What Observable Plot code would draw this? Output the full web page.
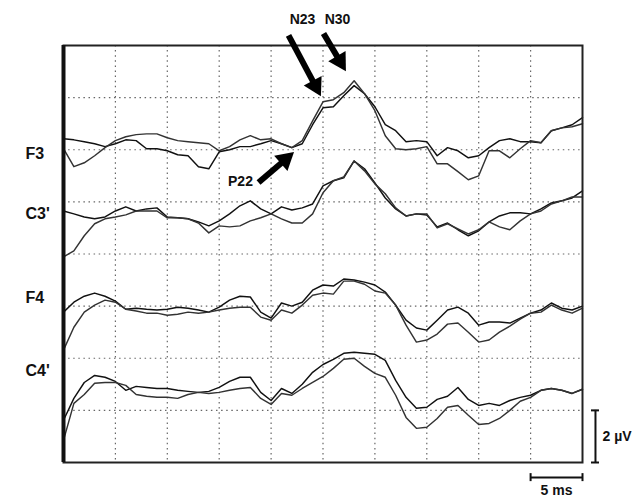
<!DOCTYPE html>
<html><head><meta charset="utf-8">
<script src="https://cdn.jsdelivr.net/npm/d3@7"></script>
<script src="https://cdn.jsdelivr.net/npm/@observablehq/plot@0.6"></script>
<style>body{margin:0;background:#fff;font-family:"Liberation Sans",Arial,sans-serif}</style>
</head><body><div id="chart"></div>
<script>
// time samples (ms after stimulus)
const timeMs = [0,1,2,3,4,5,6,7,8,9,10,11,12,13,14,15,16,17,18,19,20,21,22,23,24,25,26,27,28,29,30,31,32,33,34,35,36,37,38,39,40,41,42,43,44,45,46,47,48,49,50];
// channels and their display offsets (µV)
const channels = ["F3", "C3'", "F4", "C4'"];
const channelOffset = [12, 10, 6, 2];
const labelLevel = [11.86, 9.55, 6.33, 3.53];

// traces, µV relative to channel offset
const f3A = [0.42,0.38,0.31,0.23,0.12,0.23,0.38,0.35,0.04,0.04,-0.04,-0.19,-0.23,-0.65,-0.73,-0.08,0,0.12,0.12,0.23,0.35,0.23,0.08,0.23,0.96,1.61,1.65,2.07,2.46,2.15,1.65,0.96,0.73,0.31,0.35,0.31,-0.23,0.08,-0.04,-0.31,-0.23,0.08,0.35,0.42,0.31,0.31,0.27,0.73,0.84,0.96,1.23];
const f3B = [0.04,-0.65,-0.50,-0.23,0.08,0.35,0.50,0.58,0.61,0.61,0.46,0.35,0.31,0.27,0.23,-0.04,0.12,0.38,0.54,0.38,0.42,0.23,0.08,0.35,1.11,1.84,1.92,2.19,2.65,2.15,1.50,0.54,0.04,0,0.04,0.12,-0.54,-0.54,-0.84,-1.15,-1.00,-0.04,-0.04,-0.31,0.04,0.35,0.27,0.73,0.84,0.88,1.00];
const c3A = [-0.35,-0.46,-0.58,-0.65,-0.58,-0.35,-0.19,-0.35,-0.27,-0.23,-0.58,-0.61,-0.65,-0.77,-0.92,-0.73,-0.46,-0.15,0.04,-0.27,-0.46,-0.19,-0.31,-0.23,-0.08,0.61,0.81,0.92,1.57,1.27,0.73,0.15,-0.27,-0.54,-0.46,-0.50,-0.96,-0.81,-1.07,-1.30,-1.11,-0.77,-0.54,-0.42,-0.42,-0.46,-0.27,-0.04,0.04,0.15,0.42];
const c3B = [-2.11,-1.88,-1.30,-0.84,-0.65,-0.58,-0.50,-0.35,-0.35,-0.35,-0.61,-0.61,-0.65,-0.81,-1.19,-0.92,-0.96,-0.92,-0.73,-0.61,-0.46,-0.65,-0.81,-0.81,-0.46,0.35,0.81,0.96,1.57,1.19,0.69,0.31,-0.23,-0.54,-0.46,-0.46,-1.00,-0.84,-1.04,-1.23,-1.07,-0.77,-0.96,-1.07,-0.73,-0.46,-0.35,-0.08,0.04,0.19,0.19];
const f4A = [-0.23,0.15,0.38,0.50,0.38,0.19,-0.12,-0.08,-0.12,-0.15,-0.12,-0.04,-0.08,-0.15,-0.23,-0.04,0.23,0.38,0.35,-0.23,-0.46,0.12,0,0.15,0.61,0.81,0.77,1.04,1.00,0.92,0.81,0.54,0.04,-0.54,-0.84,-0.92,-0.54,-0.15,-0.04,-0.27,-0.73,-0.61,-0.61,-0.65,-0.46,-0.27,-0.15,0.12,-0.08,-0.15,0];
const f4B = [-1.69,-0.81,-0.23,0.04,0.23,0.15,-0.12,-0.19,-0.27,-0.27,-0.35,-0.31,-0.23,-0.27,-0.23,-0.15,-0.08,-0.04,-0.04,-0.42,-0.54,-0.15,-0.27,0.04,0.42,0.50,0.46,0.96,0.96,0.84,0.58,0.50,0.04,-0.73,-1.38,-1.30,-1.07,-0.69,-0.65,-1.00,-1.38,-1.30,-1.00,-0.77,-0.50,-0.27,-0.23,0.04,-0.15,-0.27,-0.08];
const c4A = [-0.38,0.46,1.07,1.34,1.27,1.11,0.77,0.92,0.88,0.84,0.84,0.77,0.73,0.69,0.73,0.88,1.11,1.27,1.27,0.69,0.38,0.84,0.65,1.00,1.46,1.76,1.96,2.19,2.23,2.19,2.15,1.92,1.15,0.50,0.08,0.12,0.42,0.54,0.88,0.42,0.19,0.27,0.19,0.38,0.50,0.58,0.77,0.84,0.77,0.65,0.81];
const c4B = [-1.15,0.27,0.61,1.04,1.07,1.07,0.96,0.61,0.54,0.50,0.50,0.46,0.61,0.69,0.65,0.69,0.77,0.84,0.88,0.46,0.23,0.65,0.58,0.84,1.07,1.30,1.61,1.96,2.00,1.69,1.42,1.27,0.58,-0.27,-0.69,-0.65,-0.31,0.12,0.19,-0.19,-0.54,-0.50,-0.31,0,0.35,0.50,0.77,0.84,0.77,0.65,0.81];

// grid
const gridTimes = [5,10,15,20,25,30,35,40,45];
const gridVolts = [2,4,6,8,10,12,14];

// annotations: peak labels and arrows (tail and head centre, head rotation in degrees)
const peakLabels = ["N23", "N30", "P22"];
const peakLabelT = [23.03, 26.40, 17.05];
const peakLabelV = [17.0, 17.0, 10.80];
const arrowFromT = [21.68, 25.05, 18.79];
const arrowFromV = [16.39, 16.46, 10.74];
const arrowHeadT = [24.27, 26.63, 21.36];
const arrowHeadV = [14.45, 15.40, 11.62];
const arrowHeadAngle = [152, 149, 49];

// calibration bars
const scaleUv = 2;     // µV
const scaleMs = 5;     // ms
const scaleBarT = 51.25;
const scaleBarMsStart = 45;
const scaleBarMsLevel = -0.58;

const traceSets = [[f3A, f3B], [c3A, c3B], [f4A, f4B], [c4A, c4B]];
const rows = [];
traceSets.forEach((pair, ci) => {
  pair.forEach((vals, k) => {
    vals.forEach((v, i) => rows.push({t: timeMs[i], v: channelOffset[ci] + v, id: channels[ci] + k, k}));
  });
});
const labelRows = channels.map((c, i) => ({c, v: labelLevel[i]}));
const arrows = peakLabels.map((p, i) => ({p, x1: arrowFromT[i], y1: arrowFromV[i], x2: arrowHeadT[i], y2: arrowHeadV[i], a: arrowHeadAngle[i], lt: peakLabelT[i], lv: peakLabelV[i]}));

const font = "Liberation Sans, Arial, sans-serif";
const chart = Plot.plot({
  width: 643, height: 498,
  marginLeft: 63, marginRight: 61, marginTop: 45, marginBottom: 36,
  x: {type: "linear", domain: [0, 50], axis: null},
  y: {type: "linear", domain: [0, 16], axis: null},
  style: {fontFamily: font, background: "#fff"},
  marks: [
    Plot.ruleX(gridTimes, {stroke: "#666", strokeWidth: 1.2, strokeDasharray: "1.5,3.6"}),
    Plot.ruleY(gridVolts, {stroke: "#666", strokeWidth: 1.2, strokeDasharray: "1.5,3.6"}),
    Plot.line(rows, {x: "t", y: "v", z: "id", stroke: d => d.k ? "#333" : "#111", strokeWidth: 1.45}),
    Plot.frame({stroke: "#222", strokeWidth: 2}),
    Plot.ruleX([0], {stroke: "#111", strokeWidth: 4}),
    Plot.text(labelRows, {x: 0, y: "v", text: "c", textAnchor: "start", dx: -38, fontSize: 16, fontWeight: "bold", fill: "#111"}),
    Plot.link(arrows, {x1: "x1", y1: "y1", x2: "x2", y2: "y2", stroke: "#000", strokeWidth: 6}),
    Plot.dot(arrows, {x: "x2", y: "y2", symbol: "triangle", r: 7.5, rotate: "a", fill: "#000", stroke: "none"}),
    Plot.text(arrows, {x: "lt", y: "lv", text: "p", fontSize: 14, fontWeight: "bold", fill: "#111"}),
    // vertical calibration bar with end caps
    Plot.ruleX([scaleBarT], {y1: 0, y2: scaleUv, stroke: "#111", strokeWidth: 2}),
    Plot.ruleY([0, scaleUv], {x1: scaleBarT, x2: scaleBarT, insetLeft: -4, insetRight: -4, stroke: "#111", strokeWidth: 2}),
    Plot.text([`${scaleUv} µV`], {x: scaleBarT, y: scaleUv / 2, textAnchor: "start", dx: 7, fontSize: 14, fontWeight: "bold", fill: "#111"}),
    // horizontal calibration bar with end caps
    Plot.ruleY([scaleBarMsLevel], {x1: scaleBarMsStart, x2: scaleBarMsStart + scaleMs, stroke: "#111", strokeWidth: 2}),
    Plot.ruleX([scaleBarMsStart, scaleBarMsStart + scaleMs], {y1: scaleBarMsLevel, y2: scaleBarMsLevel, insetTop: -4, insetBottom: -4, stroke: "#111", strokeWidth: 2}),
    Plot.text([`${scaleMs} ms`], {x: scaleBarMsStart + scaleMs / 2, y: scaleBarMsLevel, dy: 13, fontSize: 14, fontWeight: "bold", fill: "#111"})
  ]
});
document.getElementById("chart").append(chart);
</script>
</body></html>
